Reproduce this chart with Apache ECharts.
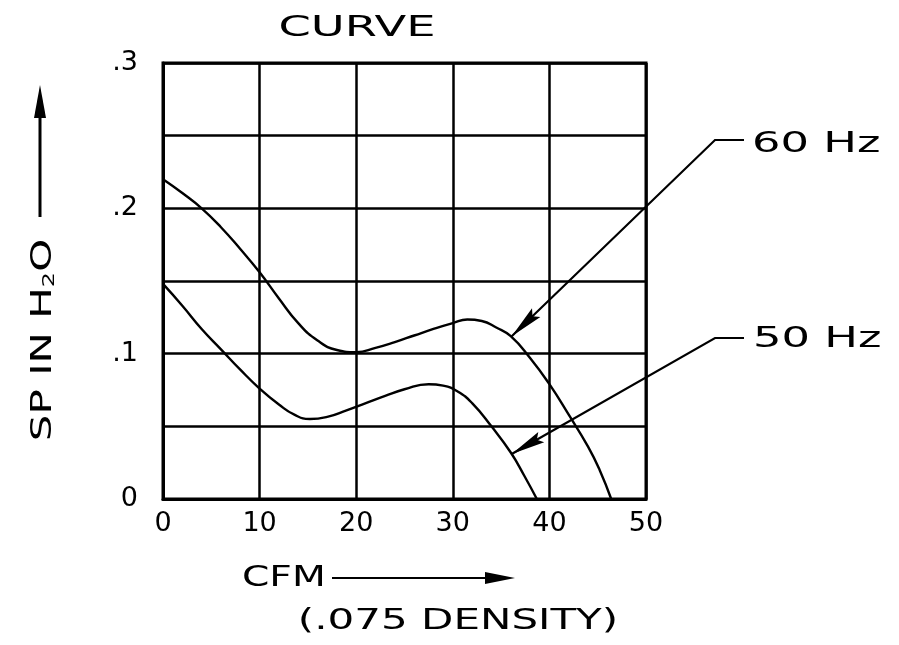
<!DOCTYPE html>
<html>
<head>
<meta charset="utf-8">
<script src="https://cdn.jsdelivr.net/npm/echarts@6/dist/echarts.min.js"></script>
<style>html,body{margin:0;padding:0;background:#fff}#c{width:899px;height:645px}</style>
</head>
<body>
<div id="c"></div>
<script>
// ---- data ----
const xTickLabels = ['0', '10', '20', '30', '40', '50'];
const yTickLabels = ['0', '.1', '.2', '.3'];
const series60Hz = [[0,0.22],[2,0.2105],[4,0.2],[6,0.187],[8,0.172],[10,0.156],[12,0.138],[14,0.121],[16,0.109],[18,0.1025],[20,0.101],[22,0.104],[24,0.108],[26,0.1125],[28,0.117],[30,0.121],[31.5,0.1235],[33,0.1225],[34.5,0.118],[36,0.112],[38,0.097],[40,0.079],[42,0.058],[44,0.036],[45.2,0.02],[46.4,0]];
const series50Hz = [[0,0.148],[2,0.133],[4,0.117],[6,0.103],[8,0.089],[10,0.076],[12,0.065],[13.6,0.058],[15.2,0.055],[17,0.0565],[19,0.061],[21,0.066],[23,0.071],[25,0.0755],[27.5,0.079],[29,0.078],[30.5,0.074],[32,0.066],[34,0.05],[36,0.032],[37.4,0.016],[38.7,0]];
const labelNames = ['60 Hz', '50 Hz'];
const arrowTips = [[36.1, 0.112], [36.1, 0.031]];

const FONT = 'DejaVu Sans';
const chart = echarts.init(document.getElementById('c'), null, {renderer: 'canvas'});

const option = {
  backgroundColor: '#fff',
  animation: false,
  grid: {left: 163, top: 63, width: 483, height: 436, show: true, borderColor: '#000', borderWidth: 3, backgroundColor: 'transparent'},
  xAxis: {
    type: 'value', min: 0, max: 50, interval: 10,
    axisLine: {show: true, lineStyle: {color: '#000', width: 3}},
    axisTick: {show: false},
    splitLine: {show: true, lineStyle: {color: '#000', width: 2.5}},
    axisLabel: {color: '#000', fontFamily: FONT, fontSize: 27, margin: 11,
      formatter: v => xTickLabels[Math.round(v / 10)]}
  },
  yAxis: {
    type: 'value', min: 0, max: 0.3, interval: 0.05,
    axisLine: {show: true, lineStyle: {color: '#000', width: 3}},
    axisTick: {show: false},
    splitLine: {show: true, lineStyle: {color: '#000', width: 2.5}},
    axisLabel: {color: '#000', fontFamily: FONT, fontSize: 27, margin: 25,
      formatter: v => { const k = Math.round(v * 100); return k % 10 === 0 ? yTickLabels[k / 10] : ''; }}
  },
  series: [
    {name: labelNames[0], type: 'line', data: series60Hz, smooth: 0.5, symbol: 'none', lineStyle: {color: '#000', width: 2.4}},
    {name: labelNames[1], type: 'line', data: series50Hz, smooth: 0.5, symbol: 'none', lineStyle: {color: '#000', width: 2.4}}
  ]
};
chart.setOption(option);

function arrowHead(tip, from, len, hw) {
  const dx = from[0] - tip[0], dy = from[1] - tip[1];
  const d = Math.hypot(dx, dy); const ux = dx / d, uy = dy / d;
  const bx = tip[0] + ux * len, by = tip[1] + uy * len;
  return [tip, [bx - uy * hw, by + ux * hw], [tip[0] + ux * len * 0.85, tip[1] + uy * len * 0.85], [bx + uy * hw, by - ux * hw]];
}

const elbows = [[[715, 140], [744, 140]], [[715, 338], [744, 338]]];
const labelPos = [[752, 145], [753, 340]];
const g = [];
arrowTips.forEach((t, i) => {
  const p = chart.convertToPixel({gridIndex: 0}, t);
  const e = elbows[i];
  g.push({type: 'polyline', shape: {points: [p, e[0], e[1]]}, style: {stroke: '#000', lineWidth: 2.2, fill: null}, z: 10});
  g.push({type: 'polygon', shape: {points: arrowHead(p, e[0], 34, 6)}, style: {fill: '#000'}, z: 10});
  g.push({type: 'text', x: labelPos[i][0], y: labelPos[i][1], scaleX: 1.6,
    style: {text: labelNames[i], fontFamily: FONT, fontSize: 28, fill: '#000', align: 'left', verticalAlign: 'middle'}, z: 10});
});
// title
g.push({type: 'text', x: 357, y: 28, scaleX: 1.6,
  style: {text: 'CURVE', fontFamily: FONT, fontSize: 29, fill: '#000', align: 'center', verticalAlign: 'middle'}});
// x axis name
g.push({type: 'text', x: 242, y: 579, scaleX: 1.4,
  style: {text: 'CFM', fontFamily: FONT, fontSize: 28, fill: '#000', align: 'left', verticalAlign: 'middle'}});
g.push({type: 'line', shape: {x1: 332, y1: 578, x2: 490, y2: 578}, style: {stroke: '#000', lineWidth: 2}});
g.push({type: 'polygon', shape: {points: [[515, 578], [485, 572], [485, 584]]}, style: {fill: '#000'}});
g.push({type: 'text', x: 458, y: 622, scaleX: 1.5,
  style: {text: '(.075 DENSITY)', fontFamily: FONT, fontSize: 28, fill: '#000', align: 'center', verticalAlign: 'middle'}});
// y axis name
g.push({type: 'text', x: 41, y: 340, rotation: Math.PI / 2, scaleX: 1.5,
  style: {text: '{a|SP IN H}{s|2}{a|O}', fill: '#000', align: 'center', verticalAlign: 'middle',
    rich: {a: {fontFamily: FONT, fontSize: 28, lineHeight: 34, verticalAlign: 'bottom'},
           s: {fontFamily: FONT, fontSize: 16, lineHeight: 34, verticalAlign: 'bottom', padding: [16, 0, 0, 0]}}}});
g.push({type: 'line', shape: {x1: 40, y1: 217, x2: 40, y2: 110}, style: {stroke: '#000', lineWidth: 3}});
g.push({type: 'polygon', shape: {points: [[40, 85], [34, 118], [46, 118]]}, style: {fill: '#000'}});

chart.setOption({graphic: {elements: g}});
</script>
</body>
</html>
